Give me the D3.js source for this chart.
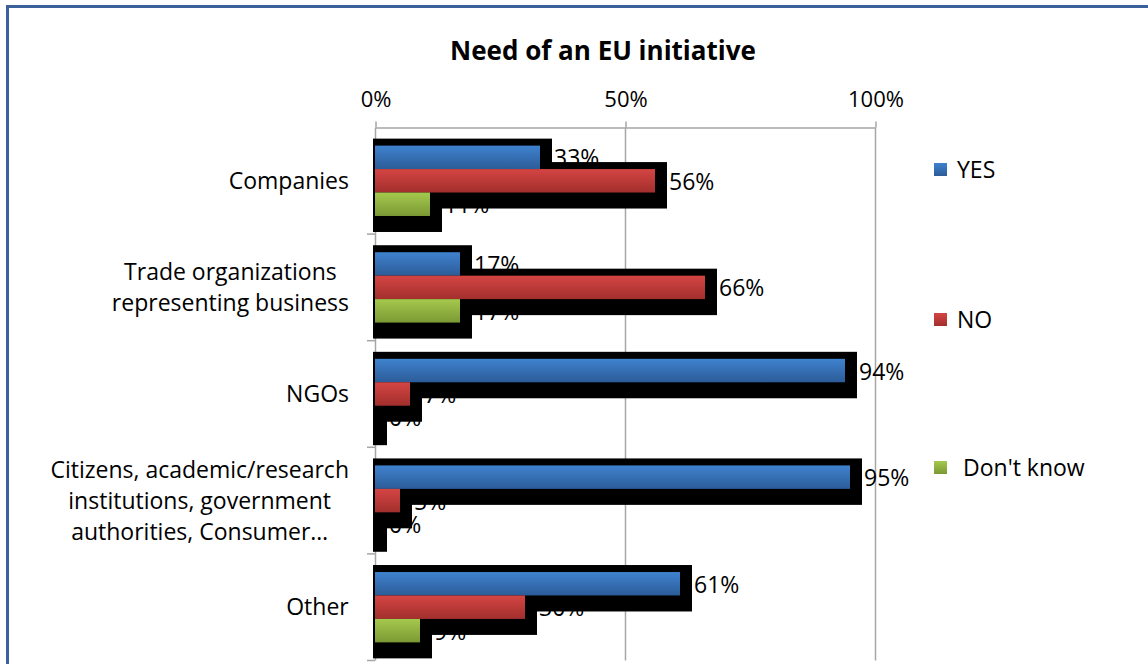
<!DOCTYPE html>
<html>
<head>
<meta charset="utf-8">
<script src="https://cdn.jsdelivr.net/npm/d3@7"></script>
<style>
  html, body { margin: 0; padding: 0; background: #ffffff; }
  svg { display: block; }
  text { font-family: "Open Sans", "Noto Sans", sans-serif; fill: #000; }
</style>
</head>
<body>
<svg id="chart" width="1148" height="664"></svg>
<script>
// Survey answers by respondent group (share of respondents)
const categories = [
  ["Companies"],
  ["Trade organizations", "representing business"],
  ["NGOs"],
  ["Citizens, academic/research", "institutions, government", "authorities, Consumer…"],
  ["Other"]
];
const seriesNames = ["YES", "NO", "Don't know"];
const yesValues = [0.33, 0.17, 0.94, 0.95, 0.61];
const noValues = [0.56, 0.66, 0.07, 0.05, 0.30];
const dontKnowValues = [0.11, 0.17, 0.00, 0.00, 0.09];
const tickValues = [0, 0.5, 1];
const tickLabels = ["0%", "50%", "100%"];
const titleText = "Need of an EU initiative";

const seriesValues = [yesValues, noValues, dontKnowValues];
const seriesColors = [
  ["#3f82cf", "#2c5c98"],
  ["#d44543", "#a22f2d"],
  ["#a5c94d", "#7b9934"]
];

const svg = d3.select("#chart");
const W = 1148, H = 664;
const plot = { left: 375, right: 875, top: 127.5, bottom: 660.5 };
const FS_TICK = 22;
const FS = 23;

// gradients for the bar fills
const defs = svg.append("defs");
seriesColors.forEach((c, i) => {
  const g = defs.append("linearGradient")
    .attr("id", "grad" + i).attr("x1", 0).attr("y1", 0).attr("x2", 0).attr("y2", 1);
  g.append("stop").attr("offset", "0%").attr("stop-color", c[0]);
  g.append("stop").attr("offset", "100%").attr("stop-color", c[1]);
});

// outer frame
svg.append("path")
  .attr("d", `M7.5,${H} V6.5 H${W}`)
  .attr("fill", "none").attr("stroke", "#3a619a").attr("stroke-width", 3);

const keys = categories.map((c, i) => i);
const x = d3.scaleLinear().domain([0, 1]).range([plot.left, plot.right]);
const y = d3.scaleBand().domain(keys).range([plot.top, plot.bottom])
  .paddingInner(0.34).paddingOuter(0.17);
const ySeries = d3.scaleBand().domain(d3.range(seriesNames.length)).range([0, y.bandwidth()]);

// title
svg.append("text")
  .attr("x", 603).attr("y", 60)
  .attr("text-anchor", "middle")
  .style("font-size", "26px").style("font-weight", "bold")
  .text(titleText);

// vertical gridlines
svg.append("g").selectAll("line")
  .data(tickValues.filter(t => t > 0))
  .join("line")
  .attr("x1", d => x(d) + 0.5).attr("x2", d => x(d) + 0.5)
  .attr("y1", plot.top).attr("y2", plot.bottom)
  .attr("stroke", "#a6a6a6").attr("stroke-width", 1.5);

// top axis
const xAxis = d3.axisTop(x)
  .tickValues(tickValues)
  .tickFormat((d, i) => tickLabels[i])
  .tickSize(6).tickSizeOuter(0).tickPadding(15);
const gx = svg.append("g").attr("transform", `translate(0.5,${plot.top})`).call(xAxis);
gx.select(".domain").attr("stroke", "#a6a6a6").attr("stroke-width", 1.5);
gx.selectAll(".tick line").attr("stroke", "#a6a6a6").attr("stroke-width", 1.5);
gx.selectAll(".tick text")
  .style("font-family", "'Open Sans', sans-serif").style("font-size", FS_TICK + "px").attr("fill", "#000");

// left axis with boundary ticks between categories
const boundaries = d3.range(categories.length + 1).map(i => plot.top + i * y.step());
const gy = svg.append("g");
gy.append("line")
  .attr("x1", plot.left + 0.5).attr("x2", plot.left + 0.5)
  .attr("y1", plot.top).attr("y2", plot.bottom)
  .attr("stroke", "#a6a6a6").attr("stroke-width", 1.5);
gy.selectAll("line.b").data(boundaries.slice(1)).join("line")
  .attr("class", "b")
  .attr("x1", plot.left - 8).attr("x2", plot.left)
  .attr("y1", d => d).attr("y2", d => d)
  .attr("stroke", "#a6a6a6").attr("stroke-width", 1.5);

// category labels: each block of centred lines, right-aligned to the axis
const lineH = 31;
keys.forEach(i => {
  const lines = categories[i];
  const cy = y(i) + y.bandwidth() / 2;
  const t = svg.append("text")
    .attr("text-anchor", "middle")
    .style("font-size", FS + "px");
  lines.forEach((ln, j) => {
    t.append("tspan")
      .attr("x", 0)
      .attr("y", cy + (j - (lines.length - 1) / 2) * lineH + 8)
      .text(ln);
  });
  const bb = t.node().getBBox();
  t.selectAll("tspan").attr("x", 349 - bb.width / 2);
});

// flattened bar records
const bars = [];
seriesValues.forEach((vals, s) => {
  vals.forEach((v, c) => bars.push({ s, c, v, top: y(c) + ySeries(s), h: ySeries.bandwidth() }));
});

// value labels (drawn first, the bar shadows sit over them)
svg.append("g").selectAll("text").data(bars).join("text")
  .attr("x", d => x(d.v) + 14)
  .attr("y", d => d.top + d.h / 2 + 9)
  .style("font-size", FS + "px")
  .text(d => Math.round(d.v * 100) + "%");

// heavy black shadows behind bars
svg.append("g").selectAll("rect").data(bars).join("rect")
  .attr("x", plot.left - 2)
  .attr("y", d => d.top - 7)
  .attr("width", d => x(d.v) + 12 - (plot.left - 2))
  .attr("height", d => d.h + 23)
  .attr("fill", "#000");

// bars
svg.append("g").selectAll("rect").data(bars).join("rect")
  .attr("x", plot.left)
  .attr("y", d => d.top)
  .attr("width", d => x(d.v) - plot.left)
  .attr("height", d => d.h)
  .attr("fill", d => `url(#grad${d.s})`);

// legend
const legendY = [170, 320, 468];
const lg = svg.append("g");
seriesNames.forEach((name, i) => {
  lg.append("rect")
    .attr("x", 934).attr("y", legendY[i] - 7)
    .attr("width", 13).attr("height", 13)
    .attr("fill", `url(#grad${i})`);
  lg.append("text")
    .attr("x", i === 2 ? 963 : 957).attr("y", legendY[i] + 8)
    .style("font-size", FS + "px")
    .text(name);
});
</script>
</body>
</html>
